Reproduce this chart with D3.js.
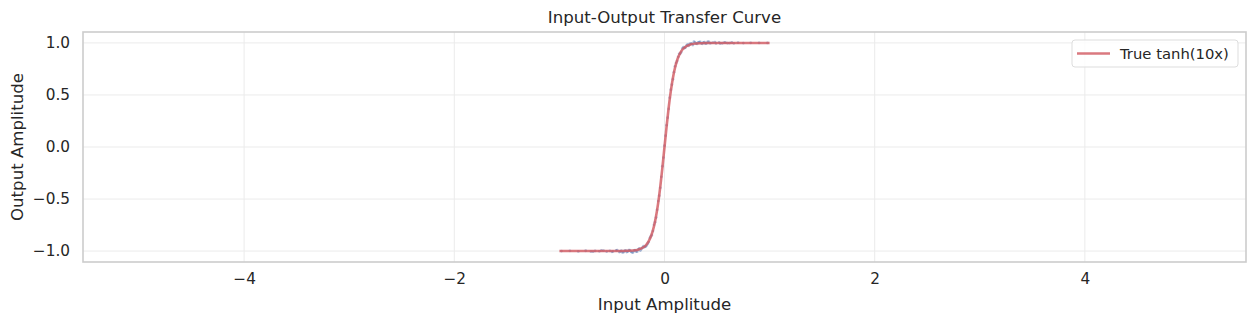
<!DOCTYPE html>
<html><head><meta charset="utf-8">
<script src="https://cdn.jsdelivr.net/npm/d3@7"></script>
<style>body{margin:0;background:#fff}svg text{font-family:"DejaVu Sans",sans-serif;fill:#262626}</style>
</head><body><svg id="c" width="1256" height="325"></svg>
<script>
// True curve samples tanh(10x)
const curveX = [-1.0,-0.6,-0.4,-0.3,-0.25,-0.2,-0.175,-0.15,-0.125,-0.1,-0.08,-0.06,-0.04,-0.02,0,0.02,0.04,0.06,0.08,0.1,0.125,0.15,0.175,0.2,0.25,0.3,0.4,0.6,1.0];
const curveY = [-1.0,-1.0,-0.9993,-0.9951,-0.9866,-0.9640,-0.9414,-0.9052,-0.8483,-0.7616,-0.6640,-0.5370,-0.3800,-0.1974,0,0.1974,0.3800,0.5370,0.6640,0.7616,0.8483,0.9052,0.9414,0.9640,0.9866,0.9951,0.9993,1.0,1.0];
// Measured (noisy) samples
const measX = [-0.98,-0.9,-0.82,-0.75,-0.7,-0.66,-0.62,-0.58,-0.55,-0.52,-0.49,-0.46,-0.43,-0.41,-0.39,-0.37,-0.35,-0.33,-0.31,-0.29,-0.27,-0.25,-0.23,-0.21,-0.19,-0.17,-0.15,-0.13,-0.11,-0.09,-0.07,-0.05,-0.03,-0.01,0.01,0.03,0.05,0.07,0.09,0.11,0.13,0.15,0.17,0.19,0.21,0.23,0.25,0.27,0.29,0.31,0.33,0.35,0.37,0.39,0.41,0.43,0.46,0.49,0.52,0.55,0.58,0.62,0.66,0.7,0.75,0.82,0.9,0.98,
  -0.68,-0.6,-0.5,-0.45,-0.42,-0.4,-0.38,-0.36,-0.34,-0.32,-0.3,-0.28,-0.26,-0.24,-0.22,-0.2,-0.18,-0.16,-0.14,-0.12,-0.1,-0.08,-0.06,-0.04,-0.02,0.0,0.02,0.04,0.06,0.08,0.1,0.12,0.14,0.16,0.18,0.2,0.22,0.24,0.26,0.28,0.3,0.32,0.34,0.36,0.38,0.4,0.42,0.44,0.48,0.53,0.57,0.6,0.64];
const measY = [-1.0,-0.998,-1.003,-0.997,-1.004,-0.999,-1.002,-0.996,-1.005,-0.998,-1.003,-0.994,-1.009,-0.996,-1.011,-0.993,-1.006,-0.99,-1.012,-0.997,-1.004,-0.983,-0.995,-0.967,-0.962,-0.947,-0.914,-0.858,-0.808,-0.722,-0.604,-0.468,-0.287,-0.102,0.108,0.281,0.473,0.598,0.719,0.806,0.866,0.898,0.947,0.951,0.976,0.972,0.992,0.98,1.006,0.99,1.008,0.996,1.004,0.993,1.009,0.998,1.002,0.995,1.006,0.997,1.003,0.999,0.996,1.002,0.999,1.001,1.0,1.0,
  -1.006,-0.994,-1.007,-0.992,-1.004,-1.013,-0.998,-1.01,-0.992,-1.005,-1.014,-0.99,-1.006,-0.975,-0.981,-0.953,-0.958,-0.93,-0.875,-0.845,-0.748,-0.678,-0.52,-0.392,-0.185,0.012,0.21,0.366,0.55,0.651,0.775,0.826,0.895,0.912,0.96,0.955,0.985,0.99,0.993,1.012,0.994,1.004,1.011,0.991,1.007,0.995,1.013,0.999,1.008,0.994,1.005,0.998,1.004];
const xTicks = [-4,-2,0,2,4];
const yTicks = [-1.0,-0.5,0.0,0.5,1.0];

const svg = d3.select("#c");
const L=83,R=1246,T=32,B=262;
const x = d3.scaleLinear().domain([-5.533,5.533]).range([L,R]);
const y = d3.scaleLinear().domain([-1.105,1.105]).range([B,T]);

const g = svg.append("g");
g.selectAll(".gx").data(xTicks).join("line").attr("x1",d=>x(d)).attr("x2",d=>x(d)).attr("y1",T).attr("y2",B).attr("stroke","#ebebeb").attr("stroke-width",1);
g.selectAll(".gy").data(yTicks).join("line").attr("y1",d=>y(d)).attr("y2",d=>y(d)).attr("x1",L).attr("x2",R).attr("stroke","#ebebeb").attr("stroke-width",1);

const fmt = d => d3.format(".1f")(d).replace("-","\u2212");
const xa = svg.append("g").attr("transform",`translate(0,${B})`).call(d3.axisBottom(x).tickValues(xTicks).tickSize(0).tickPadding(11).tickFormat(d=>String(d).replace("-","\u2212")));
const ya = svg.append("g").attr("transform",`translate(${L},0)`).call(d3.axisLeft(y).tickValues(yTicks).tickSize(0).tickPadding(13).tickFormat(fmt));
[xa,ya].forEach(a=>{a.select(".domain").remove();a.selectAll("text").attr("font-size",15.3).attr("font-family","DejaVu Sans").attr("fill","#262626");});

svg.append("g").selectAll("circle").data(measX.map((v,i)=>[v,measY[i]])).join("circle")
 .attr("cx",d=>x(d[0])).attr("cy",d=>y(d[1])).attr("r",1.4).attr("fill","#4c72b0").attr("opacity",0.45);

const line = d3.line().x((d,i)=>x(curveX[i])).y((d,i)=>y(curveY[i])).curve(d3.curveMonotoneX);
svg.append("path").datum(curveY).attr("d",line).attr("fill","none").attr("stroke","#d1575f").attr("stroke-opacity",0.8).attr("stroke-width",2.6);

svg.append("rect").attr("x",L).attr("y",T).attr("width",R-L).attr("height",B-T).attr("fill","none").attr("stroke","#cccccc").attr("stroke-width",1.6);

svg.append("text").attr("x",(L+R)/2).attr("y",23).attr("text-anchor","middle").attr("font-size",16.6).text("Input-Output Transfer Curve");
svg.append("text").attr("x",(L+R)/2).attr("y",310).attr("text-anchor","middle").attr("font-size",16.6).text("Input Amplitude");
svg.append("text").attr("transform",`translate(23,${(T+B)/2}) rotate(-90)`).attr("text-anchor","middle").attr("font-size",16.6).text("Output Amplitude");

// legend
const lg = svg.append("g");
lg.append("rect").attr("x",1072).attr("y",40).attr("width",166).attr("height",27).attr("rx",3).attr("fill","#fff").attr("fill-opacity",0.8).attr("stroke","#dddddd");
lg.append("line").attr("x1",1077).attr("x2",1110).attr("y1",53.5).attr("y2",53.5).attr("stroke","#d1575f").attr("stroke-opacity",0.8).attr("stroke-width",2.6);
lg.append("text").attr("x",1120).attr("y",58.5).attr("font-size",14.8).text("True tanh(10x)");
</script></body></html>
